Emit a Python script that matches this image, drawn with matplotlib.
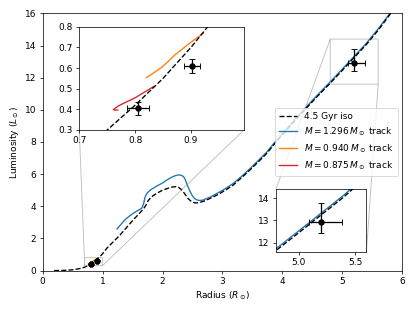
import matplotlib
matplotlib.use('Agg')
import matplotlib.pyplot as plt
import numpy as np

# 4.5 Gyr isochrone
iso_r = [0.19, 0.3, 0.4, 0.5, 0.6, 0.7, 0.75, 0.8, 0.85, 0.9, 0.93, 0.97, 1.0, 1.07, 1.18,
         1.29, 1.4, 1.51, 1.6, 1.68, 1.72, 1.76, 1.82, 1.9, 2.0, 2.1, 2.17, 2.22, 2.27, 2.32,
         2.37, 2.42, 2.48, 2.53, 2.57, 2.62, 2.7, 2.8, 2.91, 3.05, 3.18, 3.32, 3.46, 3.6, 3.74,
         3.9, 4.07, 4.3, 4.55, 4.8, 5.0, 5.2, 5.4, 5.6, 5.8, 5.9]
iso_l = [0.0, 0.005, 0.02, 0.05, 0.11, 0.21, 0.3, 0.42, 0.55, 0.7, 0.8, 0.93, 1.05, 1.39, 1.8,
         2.21, 2.68, 3.15, 3.5, 3.83, 4.05, 4.35, 4.6, 4.8, 5.0, 5.13, 5.2, 5.22, 5.17, 5.02,
         4.78, 4.5, 4.3, 4.22, 4.21, 4.24, 4.33, 4.5, 4.7, 5.0, 5.32, 5.78, 6.26, 6.77, 7.29,
         8.02, 8.74, 9.7, 10.7, 11.66, 12.45, 13.25, 14.05, 14.95, 15.95, 16.5]

# M = 1.296 Msun track
blue_r = [1.24, 1.3, 1.37, 1.44, 1.51, 1.58, 1.65, 1.68, 1.71, 1.75, 1.8, 1.9, 2.0, 2.07, 2.15,
          2.21, 2.26, 2.31, 2.35, 2.38, 2.41, 2.45, 2.49, 2.53, 2.57, 2.62, 2.68, 2.8, 2.91,
          3.05, 3.18, 3.32, 3.46, 3.6, 3.74, 3.9, 4.07, 4.3, 4.55, 4.8, 5.0, 5.2, 5.4, 5.6,
          5.8, 5.9]
blue_l = [2.59, 2.85, 3.15, 3.37, 3.56, 3.72, 3.87, 4.1, 4.6, 4.85, 5.02, 5.25, 5.45, 5.63, 5.8,
          5.9, 5.95, 5.93, 5.85, 5.65, 5.35, 5.0, 4.7, 4.5, 4.4, 4.36, 4.39, 4.58, 4.8,
          5.1, 5.42, 5.86, 6.34, 6.85, 7.37, 8.1, 8.82, 9.78, 10.78, 11.74, 12.53, 13.33,
          14.13, 15.03, 16.03, 16.58]

# M = 0.940 Msun track
orange_r = [0.82, 0.835, 0.849, 0.871, 0.895, 0.91, 0.922]
orange_l = [0.553, 0.58, 0.606, 0.663, 0.715, 0.745, 0.768]

# M = 0.875 Msun track
red_r = [0.833, 0.816, 0.798, 0.783, 0.771, 0.764, 0.761, 0.764, 0.769]
red_l = [0.51, 0.482, 0.453, 0.434, 0.418, 0.405, 0.399, 0.396, 0.397]

# observed stars
obs_r = [0.805, 0.902, 5.2]
obs_l = [0.405, 0.61, 12.93]
obs_r_lo = [0.019, 0.015, 0.11]
obs_r_hi = [0.019, 0.015, 0.18]
obs_l_lo = [0.033, 0.035, 0.5]
obs_l_hi = [0.033, 0.035, 0.87]


def draw(ax):
    ax.plot(iso_r, iso_l, 'k--', lw=1.5, zorder=3, label='4.5 Gyr iso')
    ax.plot(blue_r, blue_l, color='C0', lw=1.5, zorder=2, label=r'$M = 1.296\,M_\odot$ track')
    ax.plot(orange_r, orange_l, color='C1', lw=1.5, zorder=2, label=r'$M = 0.940\,M_\odot$ track')
    ax.plot(red_r, red_l, color='C3', lw=1.5, zorder=2, label=r'$M = 0.875\,M_\odot$ track')
    ax.errorbar(obs_r, obs_l, xerr=[obs_r_lo, obs_r_hi], yerr=[obs_l_lo, obs_l_hi],
                fmt='o', color='k', ms=6, capsize=3, elinewidth=1.4, zorder=5)


fig = plt.figure(figsize=(415 / 65, 311 / 65), dpi=65)
ax = fig.add_axes([0.103, 0.13, 0.866, 0.827])
draw(ax)
ax.set_xlim(0, 6)
ax.set_ylim(0, 16)
ax.set_xlabel(r'Radius ($R_\odot$)')
ax.set_ylabel(r'Luminosity ($L_\odot$)')
ax.legend(loc='center right')

# zoom on the two dwarfs
axins1 = fig.add_axes([0.191, 0.582, 0.397, 0.332])
draw(axins1)
axins1.set_xlim(0.7, 0.995)
axins1.set_ylim(0.3, 0.8)
axins1.set_xticks([0.7, 0.8, 0.9])
ax.indicate_inset_zoom(axins1)

# zoom on the giant
axins2 = fig.add_axes([0.665, 0.19, 0.218, 0.202])
draw(axins2)
axins2.set_xlim(4.8, 5.6)
axins2.set_ylim(11.6, 14.4)
axins2.set_xticks([5.0, 5.5])
ax.indicate_inset_zoom(axins2)

fig.savefig('out.png', dpi=65)
